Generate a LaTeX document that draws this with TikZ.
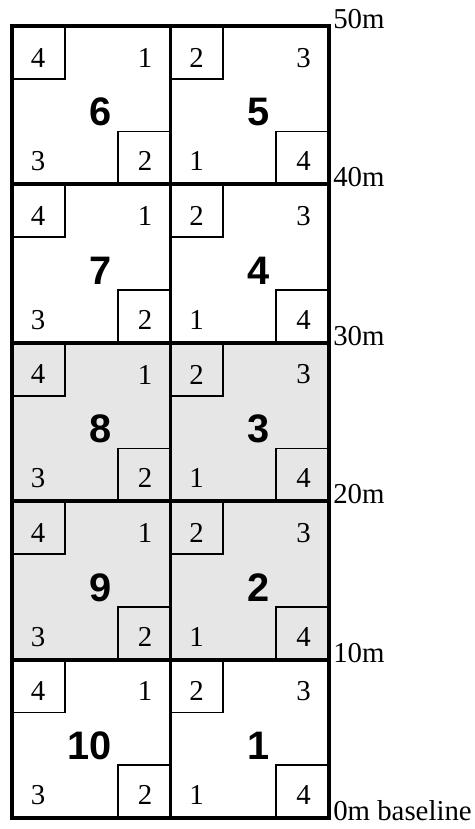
\documentclass[tikz,border=0pt]{standalone}
\usepackage{fontspec}
\setmainfont{Liberation Serif}
\newfontfamily\blockfont{Liberation Sans}
\usetikzlibrary{positioning}
\definecolor{shade}{HTML}{E6E6E6}

\begin{document}
\begin{tikzpicture}[
    x=2.8cm, y=2.8cm,
    cell/.style={draw, line width=1.9pt, minimum size=2.8cm, anchor=south west, inner sep=0pt, outer sep=0pt},
    corner/.style={draw, line width=0.9pt, minimum size=2.8cm/3, inner sep=0pt, outer sep=0pt},
    num/.style={font=\fontsize{14.5}{14.5}\selectfont, inner sep=0pt},
    big/.style={font=\blockfont\bfseries\fontsize{20}{20}\selectfont, anchor=east, inner sep=0pt},
    lbl/.style={font=\fontsize{14.5}{14.5}\selectfont, anchor=base west, inner sep=2pt, yshift=-1.2pt}
]
    \useasboundingbox (-0.076,-0.069) rectangle (2.917,5.164);
    \foreach \r/\a/\b/\c in {0/10/1/white, 1/9/2/shade, 2/8/3/shade, 3/7/4/white, 4/6/5/white} {
        \node[cell, fill=\c] (l\r) at (0,\r) {};
        \node[cell, fill=\c] (r\r) at (1,\r) {};
        \node[corner, anchor=north west] (l\r-tl) at (l\r.north west) {};
        \node[corner, anchor=south east] (l\r-br) at (l\r.south east) {};
        \node[corner, anchor=north west] (r\r-tl) at (r\r.north west) {};
        \node[corner, anchor=south east] (r\r-br) at (r\r.south east) {};
        \node[num] at ([shift={(0.165,0.8)}]l\r.south west) {4};
        \node[num] at ([shift={(0.84,0.8)}]l\r.south west) {1};
        \node[num] at ([shift={(0.165,0.145)}]l\r.south west) {3};
        \node[num] at ([shift={(0.84,0.145)}]l\r.south west) {2};
        \node[num] at ([shift={(0.165,0.8)}]r\r.south west) {2};
        \node[num] at ([shift={(0.84,0.8)}]r\r.south west) {3};
        \node[num] at ([shift={(0.165,0.145)}]r\r.south west) {1};
        \node[num] at ([shift={(0.84,0.145)}]r\r.south west) {4};
        \node[big] (nl\r) at ([shift={(0.63,0.455)}]l\r.south west) {\a};
        \node[big] (nr\r) at ([shift={(0.63,0.455)}]r\r.south west) {\b};
    }
    \foreach \r/\t in {0/0m baseline, 1/10m, 2/20m, 3/30m, 4/40m} {
        \node[lbl] (m\r) at (r\r.south east) {\t};
    }
    \node[lbl] (m5) at (r4.north east) {50m};
\end{tikzpicture}
\end{document}
